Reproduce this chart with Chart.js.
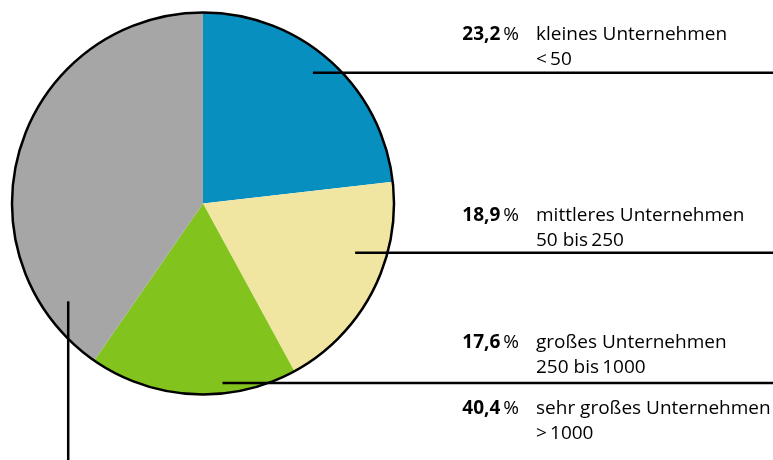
<!DOCTYPE html>
<html lang="de">
<head>
<meta charset="utf-8">
<title>Unternehmensgröße</title>
<script src="https://cdn.jsdelivr.net/npm/chart.js@4/dist/chart.umd.min.js"></script>
<style>
    html, body { margin: 0; padding: 0; background: #fff; }
    #wrap { width: 773px; height: 460px; position: relative; }
</style>
</head>
<body>
<div id="wrap"><canvas id="pieChart" width="773" height="460"></canvas></div>
<script>
// Data
const categories = ['kleines Unternehmen', 'mittleres Unternehmen', 'großes Unternehmen', 'sehr großes Unternehmen'];
const sizeRanges = ['<\u200950', '50 bis\u2009250', '250 bis\u20091000', '>\u20091000'];
const shares = [23.2, 18.9, 17.6, 40.4];

// Styles
const sliceColors = ['#068fbf', '#f1e5a2', '#83c31e', '#a6a6a6'];
const leaderAt = [0.48, 0.36, 0.354, 0.133];      // position along the slice
const leaderDepth = [0.894, 0.837, 0.945, 0.872];  // fraction of radius
const leaderDir = ['right', 'right', 'right', 'down'];
const labelBaseline = [40, 221, 348, 414];
const labelTextX = 536;
const labelPctRight = 519;
const FONT = '"Open Sans", "Noto Sans", sans-serif';

// outline around the whole pie + leader lines + labels
const pieExtras = {
    id: 'pieExtras',
    afterDatasetsDraw(chart) {
        const ctx = chart.ctx;
        const arcs = chart.getDatasetMeta(0).data;
        const cx = arcs[0].x, cy = arcs[0].y, r = arcs[0].outerRadius;

        ctx.save();
        ctx.strokeStyle = '#000';
        ctx.lineWidth = 2.5;
        ctx.beginPath();
        ctx.arc(cx, cy, r, 0, Math.PI * 2);
        ctx.stroke();

        // leader lines
        arcs.forEach((arc, i) => {
            const a = arc.startAngle + leaderAt[i] * (arc.endAngle - arc.startAngle);
            const px = cx + Math.cos(a) * r * leaderDepth[i];
            const py = cy + Math.sin(a) * r * leaderDepth[i];
            ctx.beginPath();
            if (leaderDir[i] === 'right') {
                ctx.moveTo(px, py);
                ctx.lineTo(chart.width, py);
            } else {
                ctx.moveTo(px, py);
                ctx.lineTo(px, chart.height);
            }
            ctx.stroke();
        });

        // labels
        ctx.fillStyle = '#000';
        ctx.textBaseline = 'alphabetic';
        const fontSize = 19;
        shares.forEach((v, i) => {
            const y = labelBaseline[i];
            ctx.font = fontSize + 'px ' + FONT;
            ctx.textAlign = 'right';
            ctx.fillText('%', labelPctRight, y);
            const pctW = ctx.measureText('%').width;
            ctx.font = 'bold ' + fontSize + 'px ' + FONT;
            ctx.fillText(v.toFixed(1).replace('.', ','), labelPctRight - pctW - 3, y);

            ctx.font = fontSize + 'px ' + FONT;
            ctx.textAlign = 'left';
            ctx.fillText(categories[i], labelTextX, y);
            ctx.fillText(sizeRanges[i], labelTextX, y + 24.5);
        });
        ctx.restore();
    }
};

const pieCtx = document.getElementById('pieChart').getContext('2d');
const pieChart = new Chart(pieCtx, {
    type: 'pie',
    data: {
        labels: categories,
        datasets: [{
            data: shares,
            backgroundColor: sliceColors,
            borderWidth: 0,
            hoverOffset: 0,
            offset: 0,
            radius: 191
        }]
    },
    options: {
        responsive: false,
        animation: false,
        events: [],
        layout: {
            padding: { left: 11, top: 12, right: 378, bottom: 65 }
        },
        plugins: {
            legend: { display: false },
            tooltip: { enabled: false }
        }
    },
    plugins: [pieExtras]
});
</script>
</body>
</html>
